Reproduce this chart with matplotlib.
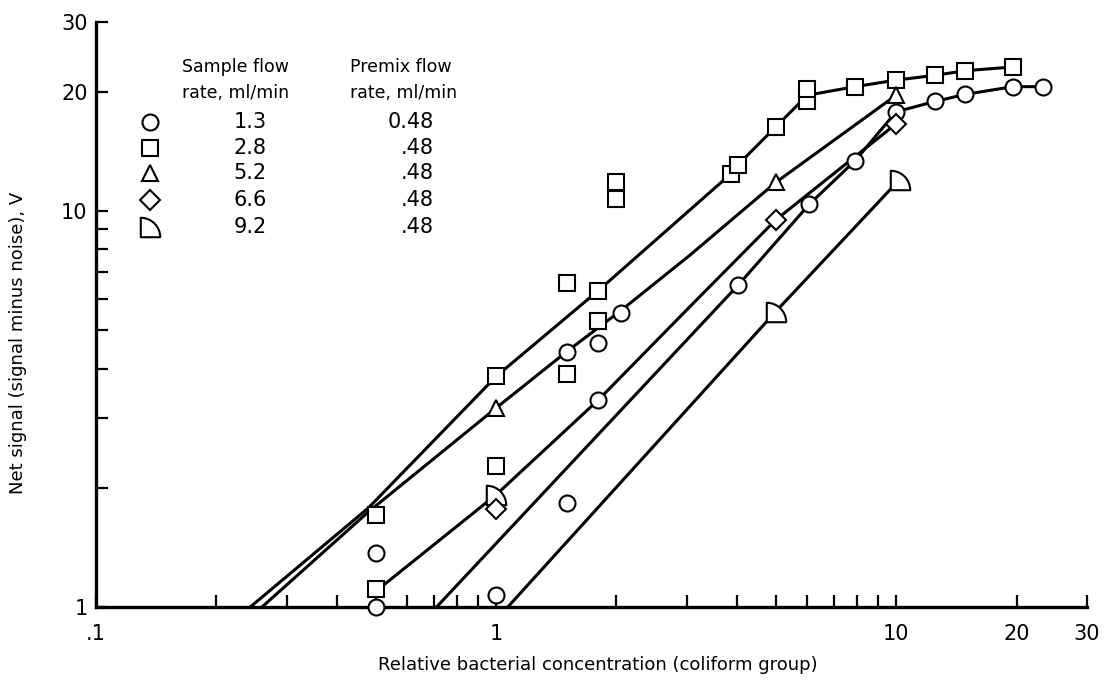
import numpy as np
import matplotlib
matplotlib.use("Agg")
import matplotlib.pyplot as plt
from matplotlib.path import Path
from matplotlib.ticker import FixedLocator, NullFormatter

# --- data (log-log) ---
circ_x = [0.5, 0.5, 1.0, 1.5, 1.5, 1.8, 1.8, 2.05, 4.03, 6.07, 7.9, 10.0, 12.5, 14.9, 19.6, 23.3]
circ_y = [1.0, 1.37, 1.07, 1.83, 4.41, 3.33, 4.63, 5.52, 6.5, 10.4, 13.4, 17.8, 18.9, 19.7, 20.6, 20.6]

sq_x = [0.5, 0.5, 1.0, 1.0, 1.5, 1.5, 1.8, 1.8, 2.0, 2.0, 3.86, 4.03, 5.0, 6.0, 6.0, 7.9, 10.0, 12.5, 14.9, 19.6]
sq_y = [1.11, 1.71, 2.27, 3.82, 3.88, 6.57, 5.28, 6.29, 10.7, 11.8, 12.4, 13.1, 16.3, 18.9, 20.3, 20.6, 21.4, 22.0, 22.6, 23.1]

tri_x = [1.0, 5.0, 10.0]
tri_y = [3.18, 11.8, 19.6]

dia_x = [1.0, 5.0, 10.0]
dia_y = [1.77, 9.49, 16.6]

dee_x = [1.0, 5.0, 10.2]
dee_y = [1.92, 5.57, 12.0]

# hand-drawn fit lines
sq_line_x = [0.243, 0.48, 1.0, 1.8, 3.86, 4.03, 5.0, 6.0, 7.9, 10.0, 12.5, 14.9, 19.6]
sq_line_y = [1.0, 1.78, 3.82, 6.29, 12.4, 13.1, 16.3, 19.6, 20.6, 21.4, 22.0, 22.6, 23.1]
tri_line_x = [0.26, 0.48, 1.0, 1.5, 2.05, 3.05, 5.0, 10.0]
tri_line_y = [1.0, 1.74, 3.18, 4.41, 5.6, 7.73, 11.8, 19.6]
circ_line_x = [0.71, 4.03, 6.07, 7.9, 10.0, 12.5, 14.9, 19.6, 23.3]
circ_line_y = [1.0, 6.5, 10.4, 13.4, 17.8, 18.9, 19.7, 20.6, 20.6]
dia_line_x = [0.52, 1.0, 1.8, 3.05, 5.0, 10.0]
dia_line_y = [1.13, 1.92, 3.33, 5.73, 9.49, 16.6]
dee_line_x = [1.07, 5.0, 10.2]
dee_line_y = [1.0, 5.57, 12.0]

sample_rates = ["1.3", "2.8", "5.2", "6.6", "9.2"]
premix_rates = ["0.48", ".48", ".48", ".48", ".48"]

xticks = [0.1, 1, 10, 20, 30]
xticklabels = [".1", "1", "10", "20", "30"]
yticks = [1, 10, 20, 30]
yticklabels = ["1", "10", "20", "30"]

# quarter-disc "D" marker (flat left and bottom, rounded top-right)
arc = Path.arc(0, 90)
dee_verts = np.vstack([arc.vertices - 0.5, [[-0.5, -0.5], [-0.5, -0.5]]])
dee_codes = list(arc.codes) + [Path.LINETO, Path.CLOSEPOLY]
dee_marker = Path(dee_verts, dee_codes)

plt.rcParams['font.family'] = ['DejaVu Sans']

W, H = 1107, 684
fig = plt.figure(figsize=(W / 100, H / 100), dpi=100)
ax = fig.add_axes([96 / W, (H - 607) / H, (1087 - 96) / W, (607 - 22) / H])
ax.set_xscale('log')
ax.set_yscale('log')
ax.set_xlim(0.1, 30)
ax.set_ylim(1, 30)

lw = 2.2
for lx, ly in [(sq_line_x, sq_line_y), (tri_line_x, tri_line_y), (circ_line_x, circ_line_y),
               (dia_line_x, dia_line_y), (dee_line_x, dee_line_y)]:
    ax.plot(lx, ly, color='black', lw=lw, solid_capstyle='butt', zorder=2, clip_on=False)

mk = dict(linestyle='none', markerfacecolor='white', markeredgecolor='black',
          markeredgewidth=1.5, zorder=3, clip_on=False)
ax.plot(dee_x, dee_y, marker=dee_marker, markersize=14, **mk)
ax.plot(circ_x, circ_y, marker='o', markersize=11.5, **mk)
ax.plot(sq_x, sq_y, marker='s', markersize=11, **mk)
ax.plot(tri_x, tri_y, marker='^', markersize=12, **mk)
ax.plot(dia_x, dia_y, marker='D', markersize=10, **mk)

# axes styling
for s in ['top', 'right']:
    ax.spines[s].set_visible(False)
for s in ['left', 'bottom']:
    ax.spines[s].set_linewidth(2.4)

ax.xaxis.set_major_locator(FixedLocator(xticks))
ax.set_xticklabels(xticklabels)
ax.xaxis.set_minor_locator(FixedLocator([0.2, 0.3, 0.4, 0.5, 0.6, 0.7, 0.8, 0.9,
                                         2, 3, 4, 5, 6, 7, 8, 9]))
ax.xaxis.set_minor_formatter(NullFormatter())
ax.yaxis.set_major_locator(FixedLocator(yticks))
ax.set_yticklabels(yticklabels)
ax.yaxis.set_minor_locator(FixedLocator([2, 3, 4, 5, 6, 7, 8, 9]))
ax.yaxis.set_minor_formatter(NullFormatter())
ax.tick_params(which='both', direction='in', width=1.6, length=8.5, labelsize=15)
ax.tick_params(axis='x', which='major', pad=12)
ax.tick_params(axis='y', which='major', pad=6)

fig.text(598 / W, 1 - 665 / H, "Relative bacterial concentration (coliform group)",
         ha='center', va='center', fontsize=13)
fig.text(18 / W, 1 - 343 / H, "Net signal (signal minus noise), V",
         ha='center', va='center', rotation=90, fontsize=13)

# legend table
col_mark = 150 / W
col1_left = 182 / W
col1_center = 250 / W
col2_left = 350 / W
col2_right = 434 / W
hdr = 12.5
fig.text(col1_left, 1 - 67 / H, "Sample flow", ha='left', va='center', fontsize=hdr)
fig.text(col1_left, 1 - 93 / H, "rate, ml/min", ha='left', va='center', fontsize=hdr)
fig.text(col2_left, 1 - 67 / H, "Premix flow", ha='left', va='center', fontsize=hdr)
fig.text(col2_left, 1 - 93 / H, "rate, ml/min", ha='left', va='center', fontsize=hdr)

row_y = [122, 148, 173, 200, 227]
markers = [('o', 11.5), ('s', 11), ('^', 12), ('D', 10), (dee_marker, 14)]
for (m, ms), yy, sr, pr in zip(markers, row_y, sample_rates, premix_rates):
    fig.lines.append(plt.Line2D([col_mark], [1 - yy / H], transform=fig.transFigure,
                                marker=m, markersize=ms, markerfacecolor='white',
                                markeredgecolor='black', markeredgewidth=1.5, linestyle='none'))
    fig.text(col1_center, 1 - yy / H, sr, ha='center', va='center', fontsize=15)
    fig.text(col2_right, 1 - yy / H, pr, ha='right', va='center', fontsize=15)

fig.savefig("out.png", dpi=100)
